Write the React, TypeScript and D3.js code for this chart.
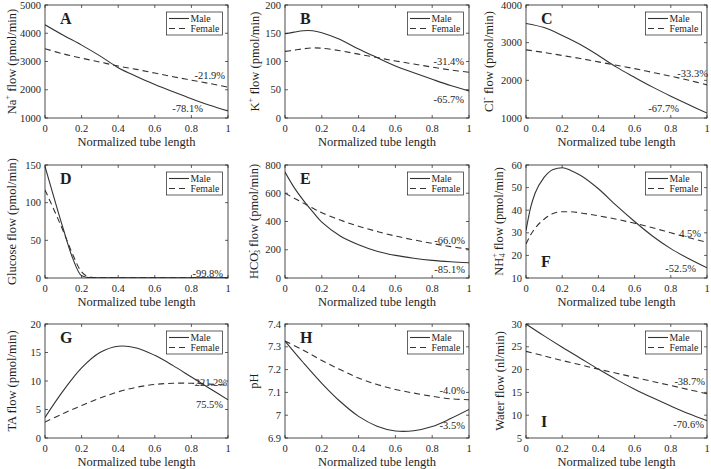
import React from 'react';
import * as d3 from 'd3';

// ---------- data ----------
const xGrid = [0, 0.1, 0.2, 0.3, 0.4, 0.5, 0.6, 0.7, 0.8, 0.9, 1];
const xB = [0, 0.05, 0.1, 0.15, 0.2, 0.3, 0.4, 0.5, 0.6, 0.7, 0.8, 0.9, 1];
const xD = [0, 0.05, 0.1, 0.15, 0.2, 0.25, 0.3, 0.5, 0.75, 1];
const xE = [0, 0.05, 0.1, 0.15, 0.2, 0.3, 0.4, 0.5, 0.6, 0.7, 0.8, 0.9, 1];
const xF = [0, 0.025, 0.05, 0.1, 0.15, 0.2, 0.25, 0.3, 0.4, 0.5, 0.6, 0.7, 0.8, 0.9, 1];
const xTicks = [0, 0.2, 0.4, 0.6, 0.8, 1];
const xTickLabels = ['0', '0.2', '0.4', '0.6', '0.8', '1'];
const seriesNames = ['Male', 'Female'];

const naMale = [4300, 3930, 3580, 3200, 2780, 2470, 2190, 1930, 1680, 1450, 1250];
const naFemale = [3450, 3270, 3120, 2980, 2840, 2720, 2590, 2460, 2340, 2220, 2090];
const kMale = [149, 152, 154.5, 154.5, 151, 139, 122, 107, 92, 80, 68.5, 57.5, 48];
const kFemale = [118, 120, 122.5, 124, 123.5, 119, 113, 107, 101, 95.5, 90, 85, 81];
const clMale = [3510, 3400, 3190, 2950, 2660, 2350, 2080, 1820, 1580, 1350, 1130];
const clFemale = [2810, 2740, 2660, 2580, 2490, 2400, 2310, 2210, 2110, 2000, 1880];
const gluMale = [148, 106, 65, 27, 3, 0.4, 0.3, 0.3, 0.3, 0.3];
const gluFemale = [117, 90, 62, 32, 8, 1, 0.3, 0.2, 0.2, 0.2];
const hco3Male = [750, 640, 550, 470, 395, 298, 236, 190, 160, 140, 125, 115, 108];
const hco3Female = [600, 565, 530, 495, 462, 410, 366, 330, 297, 270, 245, 222, 205];
const nh4Male = [31, 41, 47.5, 54.5, 58, 58.8, 57.5, 55.5, 49.5, 42, 35, 28.5, 23, 18.5, 14.5];
const nh4Female = [25, 29, 32, 36, 38.5, 39.3, 39.3, 38.8, 37.5, 36, 34.2, 32.2, 30, 27.8, 25.8];
const taMale = [3.6, 8.3, 12.3, 15.0, 16.1, 15.8, 14.5, 12.7, 10.7, 8.7, 6.7];
const taFemale = [2.8, 4.3, 5.7, 7.0, 8.1, 8.9, 9.4, 9.6, 9.6, 9.45, 9.25];
const phMale = [7.325, 7.23, 7.14, 7.06, 6.995, 6.952, 6.931, 6.932, 6.95, 6.985, 7.025];
const phFemale = [7.325, 7.285, 7.24, 7.2, 7.163, 7.135, 7.113, 7.097, 7.083, 7.072, 7.068];
const waterMale = [30, 27.4, 24.9, 22.5, 20.1, 17.8, 15.7, 13.8, 12.0, 10.3, 8.8];
const waterFemale = [24, 23, 22, 21.05, 20.1, 19.2, 18.3, 17.4, 16.5, 15.6, 14.7];

const yTicksA = [1000, 2000, 3000, 4000, 5000];
const yTicksB = [0, 50, 100, 150, 200];
const yTicksC = [1000, 2000, 3000, 4000];
const yTicksD = [0, 50, 100, 150];
const yTicksE = [0, 200, 400, 600, 800];
const yTicksF = [10, 20, 30, 40, 50, 60];
const yTicksG = [0, 5, 10, 15, 20];
const yTicksH = [6.9, 7.0, 7.1, 7.2, 7.3, 7.4];
const yTicksI = [5, 10, 15, 20, 25, 30];

const annA = [{ t: '-21.9%', x: 0.984, y: 2500 }, { t: '-78.1%', x: 0.863, y: 1319 }];
const annB = [{ t: '-31.4%', x: 0.973, y: 100 }, { t: '-65.7%', x: 0.973, y: 33.6 }];
const annC = [{ t: '-33.3%', x: 1.005, y: 2190 }, { t: '-67.7%', x: 0.845, y: 1265 }];
const annD = [{ t: '-99.8%', x: 0.973, y: 6.6 }];
const annE = [{ t: '-66.0%', x: 0.978, y: 262 }, { t: '-85.1%', x: 0.978, y: 57 }];
const annF = [{ t: '4.5%', x: 0.967, y: 29.5 }, { t: '-52.5%', x: 0.939, y: 14 }];
const annG = [{ t: '221.2%', x: 0.995, y: 9.8 }, { t: '75.5%', x: 0.973, y: 5.8 }];
const annH = [{ t: '-4.0%', x: 0.978, y: 7.11 }, { t: '-3.5%', x: 0.978, y: 6.953 }];
const annI = [{ t: '-38.7%', x: 0.989, y: 17.5 }, { t: '-70.6%', x: 0.983, y: 8.07 }];

type Part = { t: string; sup?: string; sub?: string };

const panels = [
  { letter: 'A', xs: xGrid, male: naMale, female: naFemale, dom: [1000, 5000], ticks: yTicksA, ann: annA, letterBottom: false, mono: false,
    label: [{ t: 'Na' }, { t: '', sup: '+' }, { t: ' flow (pmol/min)' }] as Part[], labOff: -33 },
  { letter: 'B', xs: xB, male: kMale, female: kFemale, dom: [0, 200], ticks: yTicksB, ann: annB, letterBottom: false, mono: false,
    label: [{ t: 'K' }, { t: '', sup: '+' }, { t: ' flow (pmol/min)' }] as Part[], labOff: -30 },
  { letter: 'C', xs: xGrid, male: clMale, female: clFemale, dom: [1000, 4000], ticks: yTicksC, ann: annC, letterBottom: false, mono: false,
    label: [{ t: 'Cl' }, { t: '', sup: '-' }, { t: ' flow (pmol/min)' }] as Part[], labOff: -37 },
  { letter: 'D', xs: xD, male: gluMale, female: gluFemale, dom: [0, 150], ticks: yTicksD, ann: annD, letterBottom: false, mono: true,
    label: [{ t: 'Glucose flow (pmol/min)' }] as Part[], labOff: -33 },
  { letter: 'E', xs: xE, male: hco3Male, female: hco3Female, dom: [0, 800], ticks: yTicksE, ann: annE, letterBottom: false, mono: false,
    label: [{ t: 'HCO' }, { t: '', sup: '-', sub: '3' }, { t: ' flow (pmol/min)' }] as Part[], labOff: -31 },
  { letter: 'F', xs: xF, male: nh4Male, female: nh4Female, dom: [10, 60], ticks: yTicksF, ann: annF, letterBottom: true, mono: true,
    label: [{ t: 'NH' }, { t: '', sup: '+', sub: '4' }, { t: ' flow (pmol/min)' }] as Part[], labOff: -27 },
  { letter: 'G', xs: xGrid, male: taMale, female: taFemale, dom: [0, 20], ticks: yTicksG, ann: annG, letterBottom: false, mono: false,
    label: [{ t: 'TA flow (pmol/min)' }] as Part[], labOff: -33 },
  { letter: 'H', xs: xGrid, male: phMale, female: phFemale, dom: [6.9, 7.4], ticks: yTicksH, ann: annH, letterBottom: false, mono: false,
    label: [{ t: 'pH' }] as Part[], labOff: -31 },
  { letter: 'I', xs: xGrid, male: waterMale, female: waterFemale, dom: [5, 30], ticks: yTicksI, ann: annI, letterBottom: true, mono: false,
    label: [{ t: 'Water flow (nl/min)' }] as Part[], labOff: -26 },
];

// ---------- layout ----------
const W = 711, H = 469;
const cols = [{ l: 45, r: 228 }, { l: 285, r: 469 }, { l: 526, r: 707 }];
const rows = [{ t: 5, b: 118 }, { t: 165, b: 278 }, { t: 324, b: 438 }];
const FONT = '"Liberation Serif", "Times New Roman", serif';
const INK = '#1e1e1e';
const LINE = '#333';

function fmtTick(v: number) {
  const s = d3.format('.1f')(v);
  return Number.isInteger(v) ? String(v) : s.replace(/\.0$/, '');
}

function YLabel({ parts, x, y }: { parts: Part[]; x: number; y: number }) {
  const out: React.ReactNode[] = [];
  let cur = 0;
  parts.forEach((p, i) => {
    if (p.t) {
      out.push(<tspan key={i + 'n'} dy={0 - cur} fontSize={12.5}>{p.t}</tspan>);
      cur = 0;
    }
    if (p.sup) {
      out.push(<tspan key={i + 'p'} dy={-5 - cur} fontSize={8.5}>{p.sup}</tspan>);
      cur = -5;
      if (p.sub) {
        out.push(<tspan key={i + 'b'} dx={-4.5} dy={3 - cur} fontSize={8.5}>{p.sub}</tspan>);
        cur = 3;
      }
    } else if (p.sub) {
      out.push(<tspan key={i + 'b'} dy={3 - cur} fontSize={8.5}>{p.sub}</tspan>);
      cur = 3;
    }
  });
  return (
    <text transform={`translate(${x},${y}) rotate(-90)`} textAnchor="middle" dominantBaseline="central"
      fontFamily={FONT} fill={INK} fontSize={12.5}>
      {out}
    </text>
  );
}

function Panel({ p, col, row }: { p: typeof panels[number]; col: { l: number; r: number }; row: { t: number; b: number } }) {
  const x = d3.scaleLinear().domain([0, 1]).range([col.l, col.r]);
  const y = d3.scaleLinear().domain(p.dom).range([row.b, row.t]);
  const line = d3.line<[number, number]>().x(d => x(d[0])).y(d => y(d[1]))
    .curve(p.mono ? d3.curveMonotoneX : d3.curveCatmullRom.alpha(0.5));
  const male = line(p.xs.map((v, i) => [v, p.male[i]] as [number, number])) || '';
  const female = line(p.xs.map((v, i) => [v, p.female[i]] as [number, number])) || '';
  const tl = 3;
  const legW = 56, legH = 23;
  const legX = col.r - 5.5 - legW, legY = row.t + 7;
  const clipId = 'clip' + p.letter;
  return (
    <g>
      <defs>
        <clipPath id={clipId}><rect x={col.l} y={row.t} width={col.r - col.l} height={row.b - row.t} /></clipPath>
      </defs>
      <g clipPath={`url(#${clipId})`}>
        <path d={female} fill="none" stroke={LINE} strokeWidth={1.1} strokeDasharray="6,4" />
        <path d={male} fill="none" stroke={LINE} strokeWidth={1.1} />
      </g>
      <rect x={col.l} y={row.t} width={col.r - col.l} height={row.b - row.t} fill="none" stroke={INK} strokeWidth={0.8} />
      {xTicks.map((t, i) => (
        <g key={'xt' + i}>
          <line x1={x(t)} x2={x(t)} y1={row.b} y2={row.b - tl} stroke={INK} strokeWidth={0.7} />
          <line x1={x(t)} x2={x(t)} y1={row.t} y2={row.t + tl} stroke={INK} strokeWidth={0.7} />
          <text x={x(t)} y={row.b + 14} textAnchor="middle" fontSize={10.5} fontFamily={FONT} fill={INK}>{xTickLabels[i]}</text>
        </g>
      ))}
      {p.ticks.map((t, i) => (
        <g key={'yt' + i}>
          <line x1={col.l} x2={col.l + tl} y1={y(t)} y2={y(t)} stroke={INK} strokeWidth={0.7} />
          <line x1={col.r} x2={col.r - tl} y1={y(t)} y2={y(t)} stroke={INK} strokeWidth={0.7} />
          <text x={col.l - 4} y={y(t)} textAnchor="end" dominantBaseline="central" fontSize={10.5} fontFamily={FONT} fill={INK}>{fmtTick(t)}</text>
        </g>
      ))}
      <text x={(col.l + col.r) / 2} y={row.b + 28} textAnchor="middle" fontSize={12.5} fontFamily={FONT} fill={INK}>Normalized tube length</text>
      <YLabel parts={p.label} x={col.l + p.labOff} y={(row.t + row.b) / 2} />
      <text x={col.l + 15} y={p.letterBottom ? row.b - 11 : row.t + 19} fontSize={16} fontWeight="bold" fontFamily={FONT} fill={INK}>{p.letter}</text>
      {p.ann.map((a, i) => (
        <text key={'a' + i} x={x(a.x)} y={y(a.y)} textAnchor="end" dominantBaseline="central" fontSize={10.5} fontFamily={FONT} fill={INK}>{a.t}</text>
      ))}
      <g>
        <rect x={legX} y={legY} width={legW} height={legH} fill="#fff" stroke={INK} strokeWidth={0.7} />
        {seriesNames.map((n, i) => {
          const ly = legY + 6.5 + i * 10;
          return (
            <g key={n}>
              <line x1={legX + 2.5} x2={legX + 22.5} y1={ly} y2={ly} stroke={LINE} strokeWidth={1.1} strokeDasharray={i === 1 ? '6,4' : undefined} />
              <text x={legX + 24} y={ly} dominantBaseline="central" fontSize={9.8} fontFamily={FONT} fill={INK}>{n}</text>
            </g>
          );
        })}
      </g>
    </g>
  );
}

export default function App() {
  return (
    <svg width={W} height={H} style={{ position: 'absolute', left: 0, top: 0, background: '#fff' }}>
      <rect x={0} y={0} width={W} height={H} fill="#fff" />
      {panels.map((p, i) => (
        <Panel key={p.letter} p={p} col={cols[i % 3]} row={rows[Math.floor(i / 3)]} />
      ))}
    </svg>
  );
}
